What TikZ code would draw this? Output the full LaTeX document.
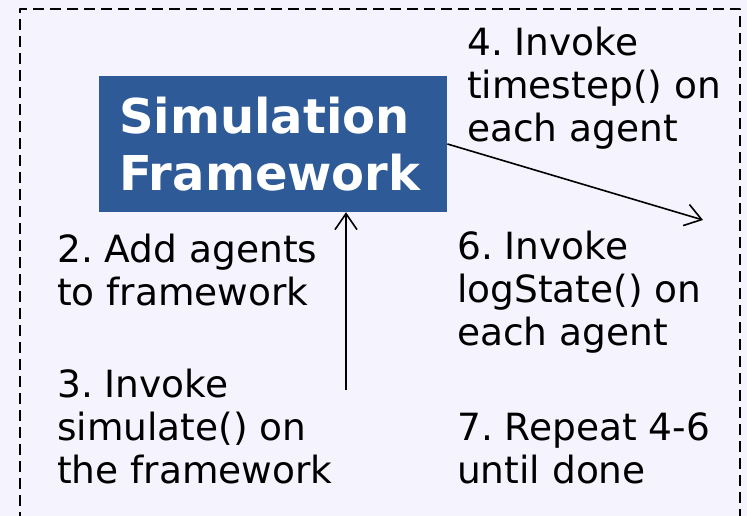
\documentclass[tikz,border=0pt]{standalone}
\usepackage{fontspec}
\setmainfont{DejaVu Sans}
\frenchspacing
\usetikzlibrary{arrows.meta}
\definecolor{pagebg}{HTML}{F5F3FD}
\definecolor{simblue}{HTML}{2E5A97}
\tikzset{
	steptext/.style={anchor=base west, align=left, inner sep=0pt,
		font=\fontsize{37.5}{43}\selectfont},
}
\begin{document}
\begin{tikzpicture}[x=1pt, y=-1pt, line join=round, >={Straight Barb[length=16pt,width=22pt]}]
	\fill[pagebg] (0,0) rectangle (747,516);
	\useasboundingbox (0,0) rectangle (747,516);
	\draw[line width=2pt, dash pattern=on 11pt off 6pt] (20,540) -- (20,9) -- (740,9) -- (740,540);
	% framework box
	\node[fill=simblue, text=white, align=left, anchor=west, text width=308pt,
		inner xsep=20pt, inner ysep=0pt, minimum height=136pt,
		font=\fontsize{48}{57}\bfseries\selectfont] (sim) at (99,144) {Simulation\\Framework};
	% step labels (placed by the baseline of their last line)
	\node[steptext] (add) at (57,305) {2. Add agents\\to framework};
	\node[steptext] (run) at (57,483) {3. Invoke\\simulate() on\\the framework};
	\node[steptext] (tick) at (467,142) {4. Invoke\\timestep() on\\each agent};
	\node[steptext] (log) at (457,345) {6. Invoke\\logState() on\\each agent};
	\node[steptext] (loop) at (457,483) {7. Repeat 4-6\\until done};
	% connectors
	\coordinate (upfoot) at (346,390);
	\coordinate (agents) at (703,220);
	\draw[->, line width=1.6pt] (upfoot) -- (upfoot |- sim.south);
	\draw[->, line width=1.6pt] (sim.east) -- (agents);
\end{tikzpicture}
\end{document}
